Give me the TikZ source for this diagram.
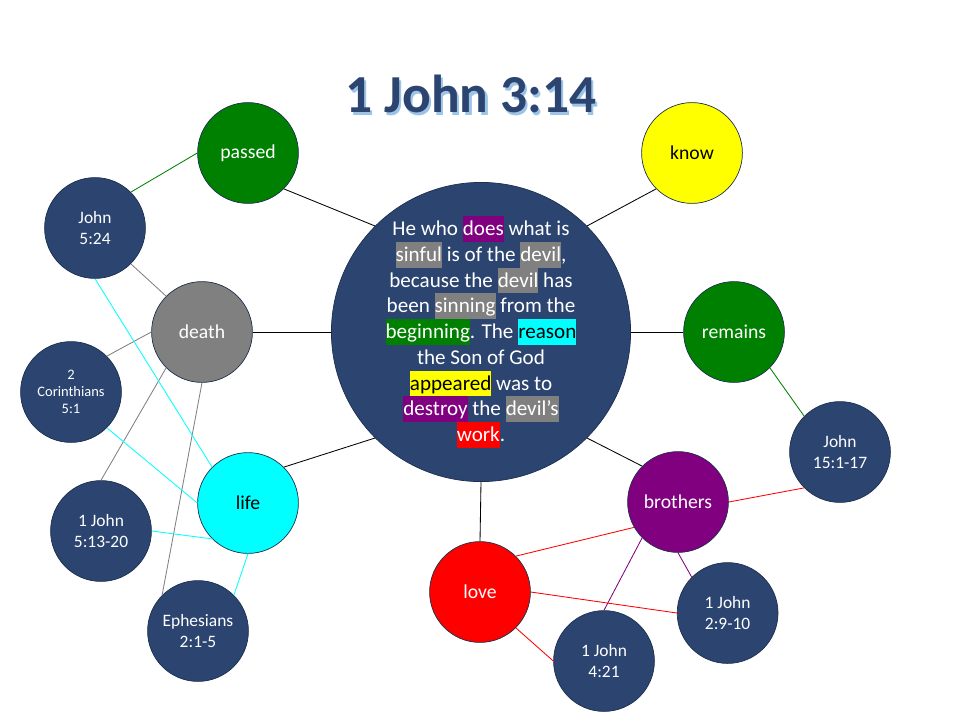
\documentclass[tikz,border=0pt]{standalone}
\usepackage{fontspec}
\setmainfont{Carlito}
\usetikzlibrary{positioning}
\definecolor{navy}{HTML}{2B4470}
\definecolor{rim}{HTML}{1E3050}
\definecolor{shade}{HTML}{9DC3E6}
\definecolor{hlgreen}{HTML}{008000}
\definecolor{hlgray}{HTML}{808080}
\definecolor{hlcyan}{HTML}{00FFFF}
\definecolor{hlyellow}{HTML}{FFFF00}
\definecolor{hlred}{HTML}{FF0000}
\definecolor{hlpurple}{HTML}{800080}
\newcommand{\hl}[2]{{\setlength{\fboxsep}{0pt}\colorbox{#1}{\rule[-4.4pt]{0pt}{18.2pt}#2}}}
\newcommand{\shadowed}[1]{\rlap{\kern1.6pt\raisebox{-1.6pt}{\color{shade}#1}}#1}
\tikzset{
  bubble/.style={circle, draw=rim, line width=0.5pt, fill=#1, inner sep=0pt,
    minimum size=2.52cm, align=center, text=white,
    font=\fontsize{14}{17}\selectfont},
  versebox/.style={circle, draw=rim, line width=0.5pt, fill=navy, inner sep=0pt,
    minimum size=2.52cm, align=center, text=white,
    font=\fontsize{12.4}{15}\selectfont},
  link/.style={line width=0.6pt, draw=#1}
}

\begin{document}
\begin{tikzpicture}
  \useasboundingbox (0,0) rectangle (24,18);

  % ---- Title ---------------------------------------------------------------
  \node[anchor=base, text=navy, font=\fontsize{38}{44}\selectfont\bfseries]
    (title) at (11.775, 15.175) {\shadowed{1 John 3:14}};

  % ---- Central verse -------------------------------------------------------
  \node[circle, draw=rim, line width=0.5pt, fill=navy, inner sep=0pt,
    minimum size=7.33cm, align=center, text=white,
    font=\fontsize{15}{18.3}\selectfont] (ctr) at (12.025, 9.70)
    {He who \hl{hlpurple}{does} what is\\
     \hl{hlgray}{sinful} is of the \hl{hlgray}{devil},\\
     because the \hl{hlgray}{devil} has\\
     been \hl{hlgray}{sinning} from the\\
     \hl{hlgreen}{beginning}. The \hl{hlcyan}{\color{black}reason}\\
     the Son of God\\
     \hl{hlyellow}{\color{black}appeared} was to\\
     \hl{hlpurple}{destroy} the \hl{hlgray}{devil’s}\\
     \hl{hlred}{work}.};

  % ---- Key words -----------------------------------------------------------
  \node[bubble=hlgreen]  (passed)   at ( 6.20, 14.175) {passed};
  \node[bubble=hlyellow, text=black] (know) at (17.30, 14.175) {know};
  \node[bubble=hlgray]   (death)    at ( 5.05,  9.70) {death};
  \node[bubble=hlgreen]  (remains)  at (18.35,  9.70) {remains};
  \node[bubble=hlcyan, text=black] (life) at ( 6.20,  5.425) {life};
  \node[bubble=hlpurple] (brothers) at (16.95,  5.45) {brothers};
  \node[bubble=hlred]    (love)     at (12.00,  3.20) {love};

  % ---- Cross references ----------------------------------------------------
  \node[versebox] (jn524)   at ( 2.375, 12.30) {John\\5:24};
  \node[versebox, font=\fontsize{10.3}{12.2}\selectfont]
                  (cor51)   at ( 1.775,  8.20) {2\\Corinthians\\5:1};
  \node[versebox] (ijn513)  at ( 2.525,  4.725) {1 John\\5:13-20};
  \node[versebox] (eph21)   at ( 4.95,   2.225) {Ephesians\\2:1-5};
  \node[versebox] (jn151)   at (21.00,   6.70) {John\\15:1-17};
  \node[versebox] (ijn29)   at (18.19,   2.675) {1 John\\2:9-10};
  \node[versebox] (ijn421)  at (15.10,   1.475) {1 John\\4:21};

  % ---- Spokes from the verse -----------------------------------------------
  \draw[link=black] (ctr.north west) -- (passed.south east);
  \draw[link=black] (ctr.north east) -- (know.south west);
  \draw[link=black] (ctr.west) -- (death.east);
  \draw[link=black] (ctr.east) -- (remains.west);
  \draw[link=black] (ctr.south west) -- (life.north east);
  \draw[link=black] (ctr.south east) -- (brothers.north west);
  \draw[link=black] (ctr.south) -- (love.north);

  % ---- Left cluster --------------------------------------------------------
  \draw[link=hlgreen] (passed.west) -- (jn524.north east);
  \draw[link=hlgray]  (jn524.south east) -- (death.north west);
  \draw[link=hlgray]  (death.west) -- (cor51.north east);
  \draw[link=hlgray]  (death.south west) -- (ijn513.north);
  \draw[link=hlgray]  (death.south) -- (eph21.north west);
  \draw[link=hlcyan]  (jn524.south) -- (life.north west);
  \draw[link=hlcyan]  (cor51.south east) -- (life.west);
  \draw[link=hlcyan]  (ijn513.east) -- (life.south west);
  \draw[link=hlcyan]  (eph21.north east) -- (life.south);

  % ---- Right cluster -------------------------------------------------------
  \draw[link=hlgreen]  (remains.south east) -- (jn151.north west);
  \draw[link=hlred]    (jn151.south west) -- (brothers.east);
  \draw[link=hlred]    (brothers.210) -- (love.north east);
  \draw[link=hlpurple] (brothers.south west) -- (ijn421.north);
  \draw[link=hlpurple] (brothers.south) -- (ijn29.north west);
  \draw[link=hlred]    (love.east) -- (ijn29.west);
  \draw[link=hlred]    (love.south east) -- (ijn421.west);

\end{tikzpicture}
\end{document}
